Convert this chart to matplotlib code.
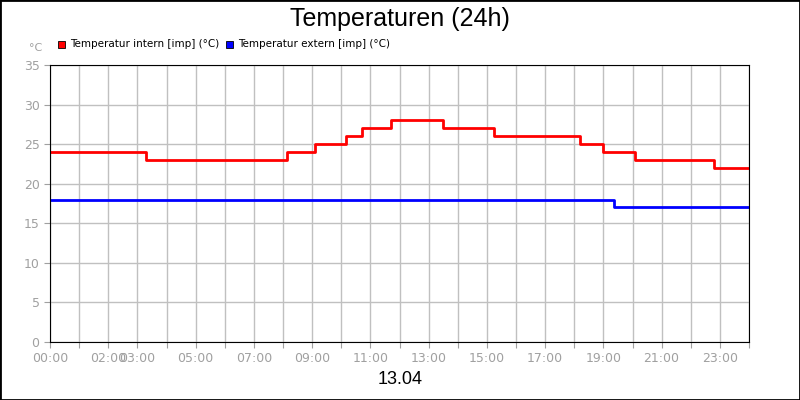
import matplotlib
matplotlib.use("Agg")
import matplotlib.pyplot as plt
from matplotlib.patches import Rectangle

# step data: hour of change, value
intern_hours = [0, 3.3, 8.15, 9.1, 10.17, 10.7, 11.7, 13.5, 15.25, 18.2, 18.97, 20.07, 22.8, 24]
intern_vals = [24, 23, 24, 25, 26, 27, 28, 27, 26, 25, 24, 23, 22, 22]
extern_hours = [0, 19.35, 24]
extern_vals = [18, 17, 17]
tick_hours = [0, 2, 3, 5, 7, 9, 11, 13, 15, 17, 19, 21, 23]

narrow = ["Liberation Sans Narrow", "DejaVu Sans"]

fig = plt.figure(figsize=(8, 4), dpi=100)
fig.patches.append(Rectangle((0, 0), 1, 1, transform=fig.transFigure, fill=False,
                             edgecolor="black", linewidth=2))
ax = fig.add_axes([50/800, 58/400, 699/800, 277/400])

ax.plot(intern_hours, intern_vals, color="#ff0000", lw=2, drawstyle="steps-post")
ax.plot(extern_hours, extern_vals, color="#0000ff", lw=2, drawstyle="steps-post")

ax.set_xlim(0, 24)
ax.set_ylim(0, 35)
ax.set_xticks(range(25))
ax.set_xticklabels(["%02d:00" % h if h in tick_hours else "" for h in range(25)],
                   family=narrow)
ax.set_yticks(range(0, 36, 5))
ax.set_yticklabels([str(v) for v in range(0, 36, 5)], family=narrow)
ax.grid(True, color="#c0c0c0", lw=1)
ax.set_axisbelow(True)
ax.tick_params(colors="#a0a0a0", labelsize=9, length=4)
for s in ax.spines.values():
    s.set_color("black")

fig.text(0.5, 0.953, "Temperaturen (24h)", ha="center", va="center", fontsize=18,
         family=["Liberation Sans", "DejaVu Sans"])
fig.text(0.5, 0.05, "13.04", ha="center", va="center", fontsize=13,
         family=["Liberation Sans", "DejaVu Sans"])
fig.text(42/800, 1 - 48/400, "°C", ha="right", va="center", fontsize=8, color="#a0a0a0")

fig.patches.append(Rectangle((58/800, 1 - 48/400), 7/800, 7/400, transform=fig.transFigure,
                             facecolor="#ff0000", edgecolor="black", lw=0.6))
fig.text(70/800, 1 - 44/400, "Temperatur intern [imp] (°C)", va="center", fontsize=7.5)
fig.patches.append(Rectangle((226/800, 1 - 48/400), 7/800, 7/400, transform=fig.transFigure,
                             facecolor="#0000ff", edgecolor="black", lw=0.6))
fig.text(238/800, 1 - 44/400, "Temperatur extern [imp] (°C)", va="center", fontsize=7.5)

fig.savefig("out.png", dpi=100)
